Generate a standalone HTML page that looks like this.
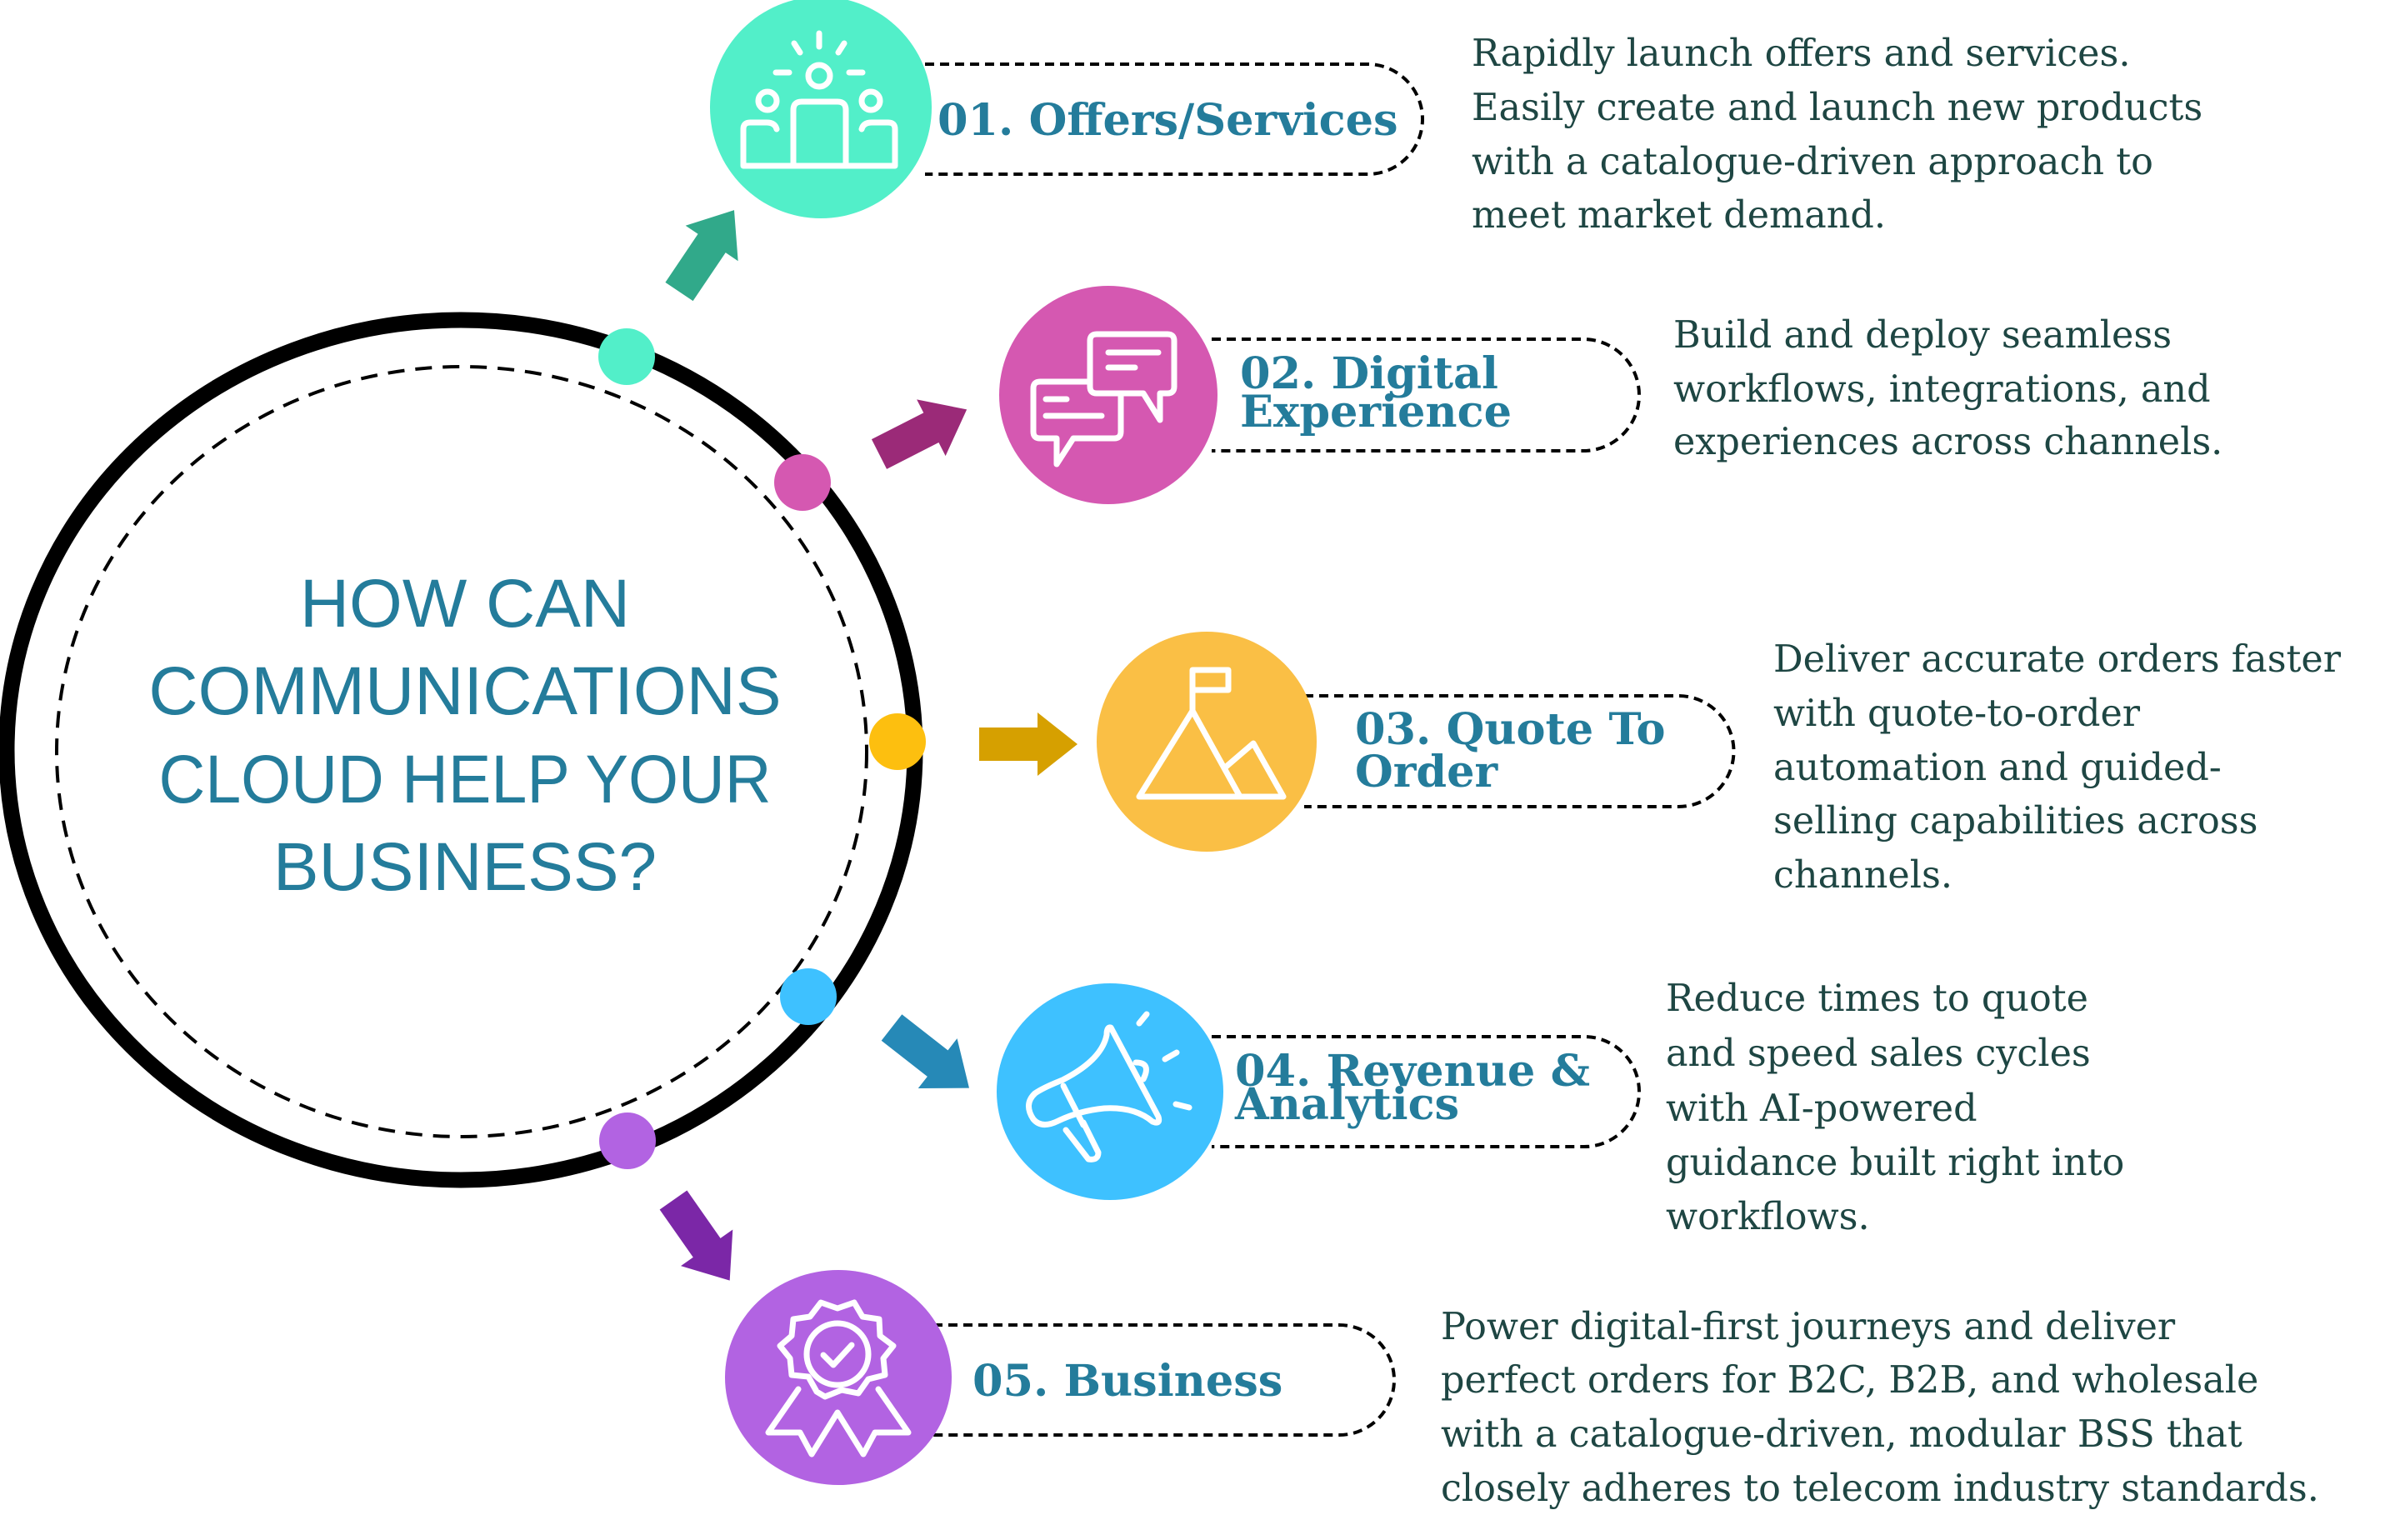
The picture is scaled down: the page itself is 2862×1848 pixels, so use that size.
<!DOCTYPE html>
<html><head><meta charset="utf-8"><style>
html,body{margin:0;padding:0;background:#fff;}
svg{display:block;}
.lbl{font-family:"DejaVu Serif","Liberation Serif",serif;font-weight:bold;fill:#247C9B;font-size:52.5px;}
.body{font-family:"DejaVu Serif","Liberation Serif",serif;fill:#1E4643;font-size:44.5px;}
.ctr{font-family:"Liberation Sans",sans-serif;fill:#247C9B;font-size:82px;}
.pill{fill:none;stroke:#000;stroke-width:4;stroke-dasharray:11 7;}
.ic{fill:none;stroke:#fff;stroke-width:7;stroke-linejoin:round;stroke-linecap:round;}
</style></head><body>
<svg width="2862" height="1848" viewBox="0 0 2862 1848" xmlns="http://www.w3.org/2000/svg">
<ellipse cx="553" cy="900" rx="545" ry="516" fill="none" stroke="#000" stroke-width="19"/>
<ellipse cx="554" cy="902" rx="486" ry="462" fill="none" stroke="#000" stroke-width="4" stroke-dasharray="20 13"/>
<g class="ctr" text-anchor="middle" textLength="">
<text x="558" y="752">HOW CAN</text>
<text x="558" y="857">COMMUNICATIONS</text>
<text x="558" y="963" textLength="735" lengthAdjust="spacingAndGlyphs">CLOUD HELP YOUR</text>
<text x="558" y="1068">BUSINESS?</text>
</g>
<circle cx="752" cy="428" r="34" fill="#52EFC9"/>
<circle cx="963" cy="579" r="34" fill="#D558B1"/>
<circle cx="1077" cy="890" r="34" fill="#FDBF0F"/>
<circle cx="970" cy="1196" r="34" fill="#3EC1FF"/>
<circle cx="753" cy="1369" r="34" fill="#B263E2"/>
<defs><polygon id="arr" points="0,-20 70,-20 70,-38 118,0 70,38 70,20 0,20"/></defs>
<use href="#arr" fill="#31A98A" transform="translate(815,350) rotate(-56)"/>
<use href="#arr" fill="#9B2A78" transform="translate(1055,545) rotate(-27)"/>
<use href="#arr" fill="#D6A000" transform="translate(1175,893)"/>
<use href="#arr" fill="#2689B7" transform="translate(1070,1233) rotate(38)"/>
<use href="#arr" fill="#7B27A7" transform="translate(808,1440) rotate(55)"/>
<path class="pill" d="M1110,77 H1641 A66,66 0 0 1 1641,209 H1110"/>
<path class="pill" d="M1454,407 H1900 A67,67 0 0 1 1900,541 H1454"/>
<path class="pill" d="M1565,835 H2014 A66,66 0 0 1 2014,968 H1565"/>
<path class="pill" d="M1454,1244 H1901 A66,66 0 0 1 1901,1376 H1454"/>
<path class="pill" d="M1120,1590 H1607 A66,66 0 0 1 1607,1722 H1120"/>
<circle cx="985" cy="129" r="133" fill="#52EFC9"/>
<circle cx="1330" cy="474" r="131" fill="#D558B1"/>
<circle cx="1448" cy="890" r="132" fill="#FABF45"/>
<ellipse cx="1332" cy="1310" rx="136" ry="130" fill="#3EC1FF"/>
<ellipse cx="1006" cy="1653" rx="136" ry="129" fill="#B263E2"/>
<g class="ic">
<circle cx="983" cy="91" r="13"/><circle cx="921" cy="121" r="11"/><circle cx="1045" cy="121" r="11"/>
<path d="M983,40 V56 M953,52 L960,63 M1013,52 L1006,63 M931,87 H947 M1019,87 H1035"/>
<path d="M892,199 H1074 M892,199 V155 Q892,147 900,147 H920 Q930,147 932,155 M1074,199 V155 Q1074,147 1066,147 H1046 Q1036,147 1034,155 M952,199 V132 Q952,122 962,122 H1005 Q1015,122 1015,132 V199"/>
</g>
<g class="ic">
<path d="M1316,401 H1401 Q1409,401 1409,409 V464 Q1409,472 1401,472 H1392 V504 L1372,472 H1316 Q1308,472 1308,464 V409 Q1308,401 1316,401 Z"/>
<path d="M1308,458 H1248 Q1240,458 1240,466 V518 Q1240,526 1248,526 H1268 V557 L1288,526 H1337 Q1345,526 1345,518 V472"/>
<path d="M1330,423 H1390 M1330,441 H1362 M1255,479 H1280 M1255,499 H1322"/>
</g>
<g class="ic">
<path d="M1431,853 V804 H1474 V828 H1431"/>
<path d="M1367,956 L1431,853 L1488,956 Z M1469,922 L1504,892 L1540,956 H1488"/>
</g>
<g class="ic" stroke-width="6">
<path d="M1333,1233 L1390,1340 Q1393,1350 1383,1346 Q1362,1328 1325,1330 Q1295,1333 1270,1345 Q1250,1355 1240,1343 Q1228,1325 1242,1312 Q1252,1305 1275,1296 Q1322,1272 1328,1242 Q1328,1232 1333,1233 Z"/>
<path d="M1276,1303 L1300,1350"/>
<path d="M1279,1356 L1306,1391 Q1318,1393 1318,1383 L1300,1347"/>
<path d="M1363,1275 Q1382,1275 1372,1295"/>
<path d="M1367,1228 L1376,1217 M1398,1271 L1412,1263 M1411,1325 L1427,1329"/>
</g>
<g class="ic" stroke-width="6">
<path d="M985,1563 L1005,1570 L1025,1563 L1035,1580 L1055,1583 L1056,1603 L1072,1615 L1060,1630 L1062,1650 L1042,1655 L1030,1672 L1010,1668 L990,1676 L980,1670 L970,1652 L950,1650 L948,1630 L936,1615 L950,1603 L952,1583 L972,1580 Z"/>
<circle cx="1005" cy="1625" r="37"/>
<path d="M988,1626 L1000,1638 L1022,1614"/>
<path d="M958,1667 L922,1719 H960 L974,1745 L1005,1695 L1036,1745 L1050,1719 H1090 L1054,1667"/>
</g>
<text class="lbl" x="1125" y="162">01. Offers/Services</text>
<text class="lbl" x="1488" y="466">02. Digital</text>
<text class="lbl" x="1488" y="512">Experience</text>
<text class="lbl" x="1626" y="893">03. Quote To</text>
<text class="lbl" x="1626" y="944">Order</text>
<text class="lbl" x="1482" y="1303">04. Revenue &amp;</text>
<text class="lbl" x="1482" y="1343">Analytics</text>
<text class="lbl" x="1167" y="1675">05. Business</text>
<g class="body">
<text x="1766" y="79">Rapidly launch offers and services.</text>
<text x="1766" y="144">Easily create and launch new products</text>
<text x="1766" y="209">with a catalogue-driven approach to</text>
<text x="1766" y="273">meet market demand.</text>
<text x="2008" y="417">Build and deploy seamless</text>
<text x="2008" y="482">workflows, integrations, and</text>
<text x="2008" y="545">experiences across channels.</text>
<text x="2128" y="806">Deliver accurate orders faster</text>
<text x="2128" y="871">with quote-to-order</text>
<text x="2128" y="936">automation and guided-</text>
<text x="2128" y="1000">selling capabilities across</text>
<text x="2128" y="1065">channels.</text>
<text x="1999" y="1213">Reduce times to quote</text>
<text x="1999" y="1279">and speed sales cycles</text>
<text x="1999" y="1345">with AI-powered</text>
<text x="1999" y="1410">guidance built right into</text>
<text x="1999" y="1475">workflows.</text>
<text x="1729" y="1607">Power digital-first journeys and deliver</text>
<text x="1729" y="1671">perfect orders for B2C, B2B, and wholesale</text>
<text x="1729" y="1736">with a catalogue-driven, modular BSS that</text>
<text x="1729" y="1801">closely adheres to telecom industry standards.</text>
</g>
</svg>
</body></html>
